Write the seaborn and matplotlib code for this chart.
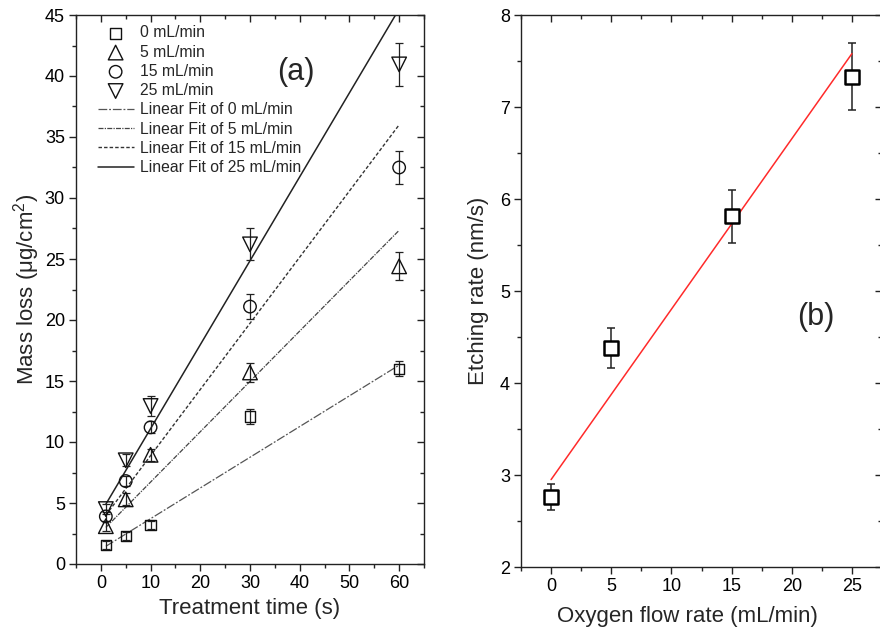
import numpy as np
import pandas as pd
import matplotlib
matplotlib.use("Agg")
import matplotlib.pyplot as plt
import seaborn as sns
from matplotlib.ticker import MultipleLocator

# ---------------- data ----------------
time_s = [1, 5, 10, 30, 60]
flow_labels = ["0 mL/min", "5 mL/min", "15 mL/min", "25 mL/min"]
mass_0 = [1.55, 2.3, 3.2, 12.1, 16.0]
mass_5 = [3.1, 5.3, 8.95, 15.7, 24.4]
mass_15 = [3.9, 6.8, 11.2, 21.1, 32.5]
mass_25 = [4.5, 8.5, 12.95, 26.2, 40.95]
err_0 = [0.3, 0.3, 0.3, 0.6, 0.6]
err_5 = [0.4, 0.5, 0.5, 0.75, 1.15]
err_15 = [0.4, 0.4, 0.5, 1.0, 1.35]
err_25 = [0.4, 0.5, 0.8, 1.3, 1.75]
fit_x = [1, 60]
fit_0 = [1.45, 16.3]
fit_5 = [3.0, 27.35]
fit_15 = [4.0, 36.0]
fit_25 = [4.9, 45.5]
fit_labels = ["Linear Fit of 0 mL/min", "Linear Fit of 5 mL/min",
              "Linear Fit of 15 mL/min", "Linear Fit of 25 mL/min"]

flow_rate = [0, 5, 15, 25]
etch_rate = [2.76, 4.38, 5.81, 7.33]
etch_err = [0.14, 0.215, 0.29, 0.365]
etch_fit_x = [0, 25]
etch_fit_y = [2.95, 7.58]

# ---------------- style ----------------
sns.set_theme(style="ticks")
plt.rcParams["font.family"] = ["Liberation Sans", "DejaVu Sans"]
plt.rcParams["mathtext.default"] = "regular"
plt.rcParams["axes.linewidth"] = 1.0
plt.rcParams["axes.edgecolor"] = "#222222"
plt.rcParams["xtick.color"] = "#222222"
plt.rcParams["ytick.color"] = "#222222"
plt.rcParams["xtick.labelcolor"] = "black"
plt.rcParams["ytick.labelcolor"] = "black"

fig = plt.figure(figsize=(8.8, 6.34), dpi=100)
axA = fig.add_axes([76 / 880, 1 - 564 / 634, 348 / 880, 549 / 634])
axB = fig.add_axes([521 / 880, 1 - 567 / 634, 361 / 880, 552 / 634])

TICK_FS = 13
LABEL_FS = 16


def style_axis(ax):
    for s in ax.spines.values():
        s.set_visible(True)
        s.set_linewidth(1.0)
    ax.tick_params(which="both", top=True, right=True, labelsize=TICK_FS, pad=3)
    ax.tick_params(axis="x", which="both", direction="out")
    ax.tick_params(axis="y", which="both", direction="out")
    ax.tick_params(which="major", length=5, width=1.0)
    ax.tick_params(which="minor", length=3, width=1.0)
    # mirrored ticks point inward
    for t in ax.xaxis.get_major_ticks() + ax.xaxis.get_minor_ticks():
        t.tick2line.set_marker(3)  # TICKDOWN -> inward for top
    for t in ax.yaxis.get_major_ticks() + ax.yaxis.get_minor_ticks():
        t.tick2line.set_marker(0)  # TICKLEFT -> inward for right


# ---------------- panel (a) ----------------
masses = [mass_0, mass_5, mass_15, mass_25]
errs = [err_0, err_5, err_15, err_25]
markers = ["s", "^", "o", "v"]
msizes = [7.5, 10.5, 9.0, 10.5]
for m, e, mk, ms, lab in zip(masses, errs, markers, msizes, flow_labels):
    axA.errorbar(time_s, m, yerr=e, fmt="none", ecolor="#222222",
                 elinewidth=0.9, capsize=3, capthick=0.9, zorder=2)
    sns.scatterplot(x=time_s, y=m, marker=mk, s=ms ** 2, facecolor="none",
                    edgecolor="#111111", linewidth=1.0, label=lab, ax=axA,
                    zorder=3)

fits = [fit_0, fit_5, fit_15, fit_25]
fit_styles = [(0, (7, 1.5, 1.5, 1.5)), (0, (4, 1, 1, 1)), (0, (2.5, 1.5)), "-"]
fit_colors = ["#555555", "#444444", "#333333", "#222222"]
fit_lw = [0.9, 0.9, 1.0, 1.1]
for f, ls, c, lw, lab in zip(fits, fit_styles, fit_colors, fit_lw, fit_labels):
    sns.lineplot(x=fit_x, y=f, color=c, linewidth=lw, linestyle=ls,
                 label=lab, ax=axA, zorder=1)

axA.set_xlim(-5, 65)
axA.set_ylim(0, 45)
axA.xaxis.set_major_locator(MultipleLocator(10))
axA.xaxis.set_minor_locator(MultipleLocator(5))
axA.yaxis.set_major_locator(MultipleLocator(5))
axA.yaxis.set_minor_locator(MultipleLocator(2.5))
axA.set_xlabel("Treatment time (s)", fontsize=LABEL_FS, labelpad=4)
axA.set_ylabel("Mass loss (μg/cm$^2$)", fontsize=LABEL_FS, labelpad=2)
style_axis(axA)

h, l = axA.get_legend_handles_labels()
leg = axA.legend(h, l, loc="upper left", bbox_to_anchor=(0.062, 0.981),
                 frameon=False, fontsize=11.3, handlelength=2.3,
                 handletextpad=0.4, labelspacing=0.27, borderpad=0,
                 borderaxespad=0, scatterpoints=1)
axA.text(296, 72, "(a)", transform=None, fontsize=22, ha="center", va="center")

# ---------------- panel (b) ----------------
axB.errorbar(flow_rate, etch_rate, yerr=etch_err, fmt="none",
             ecolor="#222222", elinewidth=1.1, capsize=3.2, capthick=1.1,
             zorder=2)
sns.lineplot(x=etch_fit_x, y=etch_fit_y, color="#ff2a2a", linewidth=1.1,
             ax=axB, zorder=3)
sns.scatterplot(x=flow_rate, y=etch_rate, marker="s", s=10.5 ** 2,
                facecolor="white", edgecolor="black", linewidth=1.8,
                ax=axB, zorder=4)
axB.set_xlim(-2.5, 27.5)
axB.set_ylim(2, 8)
axB.xaxis.set_major_locator(MultipleLocator(5))
axB.xaxis.set_minor_locator(MultipleLocator(2.5))
axB.yaxis.set_major_locator(MultipleLocator(1))
axB.yaxis.set_minor_locator(MultipleLocator(0.5))
axB.set_xlabel("Oxygen flow rate (mL/min)", fontsize=LABEL_FS, labelpad=4)
axB.set_ylabel("Etching rate (nm/s)", fontsize=LABEL_FS, labelpad=8)
style_axis(axB)
axB.xaxis.set_label_coords((687 - 521) / 361, -0.07)
axB.text(816, 317, "(b)", transform=None, fontsize=22, ha="center", va="center")

# texts given in reference pixel coordinates (from top-left); convert
for ax in (axA, axB):
    for t in ax.texts:
        x, y = t.get_position()
        t.set_transform(fig.transFigure)
        t.set_position((x / 880, 1 - y / 634))

fig.savefig("out.png", dpi=100)
